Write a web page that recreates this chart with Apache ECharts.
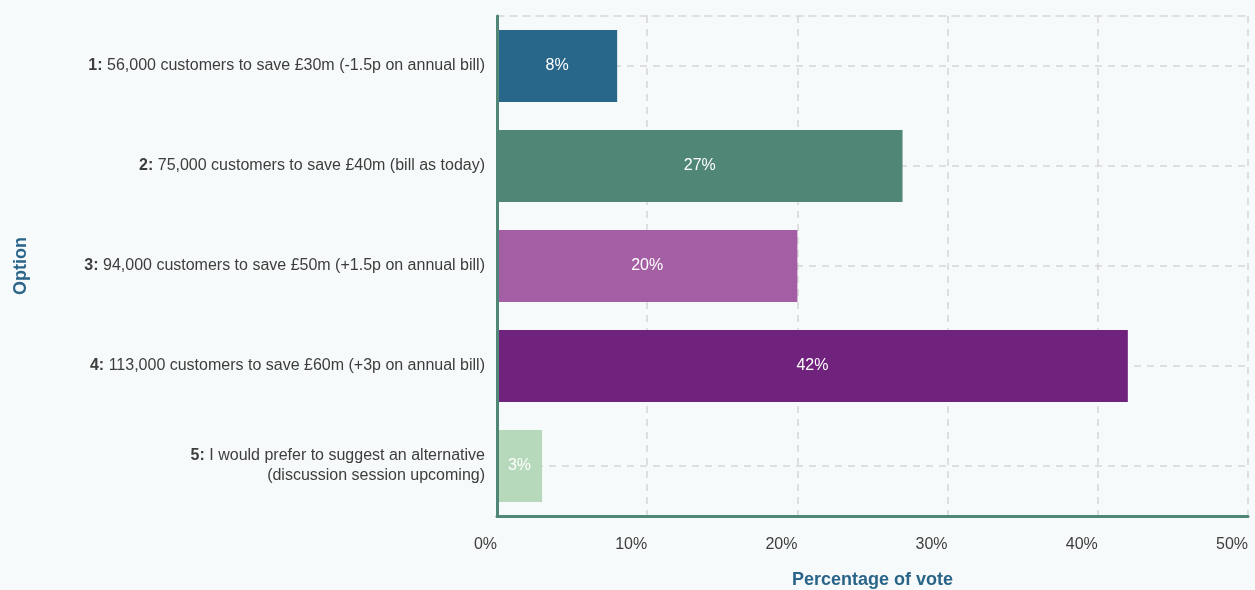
<!DOCTYPE html>
<html>
<head>
<meta charset="utf-8">
<style>
  html, body { margin: 0; padding: 0; background: #f7fafa; }
  #chart { width: 1255px; height: 590px; }
</style>
<script src="https://cdn.jsdelivr.net/npm/echarts@6/dist/echarts.min.js"></script>
</head>
<body>
<div id="chart"></div>
<script>
// Option numbers and their descriptions (shown on the category axis)
const optionNumbers = ['1', '2', '3', '4', '5'];
const optionTexts = [
  '56,000 customers to save £30m (-1.5p on annual bill)',
  '75,000 customers to save £40m (bill as today)',
  '94,000 customers to save £50m (+1.5p on annual bill)',
  '113,000 customers to save £60m (+3p on annual bill)',
  'I would prefer to suggest an alternative\n(discussion session upcoming)'
];
// Share of the vote for each option, in percent
const voteShare = [8, 27, 20, 42, 3];
const barColors = ['#28668a', '#508676', '#a45fa4', '#70237c', '#b5d9ba'];
// Value axis ticks
const xMin = 0, xMax = 50, xStep = 10;

const FONT = '"Liberation Sans", Arial, Helvetica, sans-serif';
const axisGreen = '#508676';
const titleBlue = '#2a6589';
const gridGray = '#d6d6d6';
const textGray = '#3d3d3d';

const chart = echarts.init(document.getElementById('chart'));

chart.setOption({
  backgroundColor: '#f7fafa',
  textStyle: { fontFamily: FONT },
  grid: {
    left: 497, right: 7, top: 16, bottom: 74,
    containLabel: false,
    outerBoundsMode: 'none'
  },
  xAxis: [
    {
      type: 'value',
      min: xMin, max: xMax, interval: xStep,
      name: 'Percentage of vote',
      nameLocation: 'middle',
      nameGap: 55,
      nameTextStyle: { color: titleBlue, fontWeight: 'bold', fontSize: 18, fontFamily: FONT },
      axisLine: { show: true, lineStyle: { color: axisGreen, width: 3, cap: 'round' } },
      axisTick: { show: false },
      axisLabel: {
        formatter: '{value}%', color: textGray, fontSize: 16, fontFamily: FONT,
        margin: 21, align: 'right'
      },
      splitLine: { show: true, lineStyle: { color: gridGray, type: [7, 6], width: 1.5 } }
    },
    {
      type: 'value',
      position: 'top',
      min: xMin, max: xMax, interval: xStep,
      axisLine: { show: true, lineStyle: { color: gridGray, type: [7, 6], width: 1.5 } },
      axisTick: { show: false },
      axisLabel: { show: false },
      splitLine: { show: false }
    }
  ],
  yAxis: {
    type: 'category',
    z: 6,
    inverse: true,
    data: optionNumbers,
    name: 'Option',
    nameLocation: 'middle',
    nameGap: 467,
    nameRotate: 90,
    nameTextStyle: { color: titleBlue, fontWeight: 'bold', fontSize: 18, fontFamily: FONT },
    axisLine: { show: true, lineStyle: { color: axisGreen, width: 3, cap: 'round' } },
    axisTick: { show: false },
    splitLine: { show: false },
    axisLabel: {
      margin: 12,
      align: 'right',
      fontSize: 16,
      color: textGray,
      lineHeight: 20,
      fontFamily: FONT,
      formatter: function (value, idx) {
        const txt = optionTexts[idx];
        return txt.split('\n').map(function (line, i) {
          return i === 0 ? '{b|' + value + ':} {t|' + line + '}' : '{t|' + line + '}';
        }).join('\n');
      },
      rich: {
        b: { fontWeight: 'bold', fontSize: 16, color: textGray, fontFamily: FONT, lineHeight: 20 },
        t: { fontSize: 16, color: textGray, fontFamily: FONT, lineHeight: 20 }
      }
    }
  },
  series: [
    {
      type: 'bar',
      z: 3,
      barWidth: 72,
      data: voteShare.map(function (v, i) {
        return { value: v, itemStyle: { color: barColors[i] } };
      }),
      label: {
        show: true,
        position: 'inside',
        color: '#ffffff',
        fontSize: 16,
        fontFamily: FONT,
        formatter: '{c}%'
      },
      markLine: {
        silent: true,
        z: 1,
        symbol: ['none', 'none'],
        label: { show: false },
        lineStyle: { color: gridGray, type: [7, 6], width: 1.5 },
        data: optionNumbers.map(function (n) { return { yAxis: n }; })
      }
    }
  ]
});
</script>
</body>
</html>
